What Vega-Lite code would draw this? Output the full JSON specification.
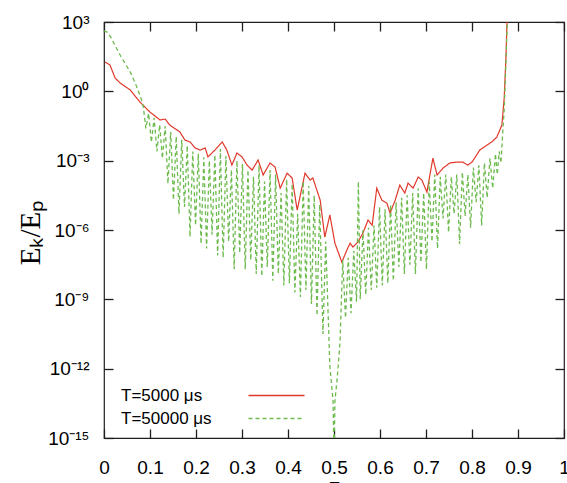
{
  "$schema": "https://vega.github.io/schema/vega-lite/v6.json",
  "width": 460,
  "height": 416,
  "autosize": "none",
  "padding": {"left": 104, "top": 22, "right": 3, "bottom": 45},
  "background": "white",
  "view": {"stroke": "#1e1e1e", "strokeWidth": 1.2},
  "datasets": {
    "curves": [
      {"series": "T=5000 μs", "tau": 0.002, "ratio": 18.6},
      {"series": "T=5000 μs", "tau": 0.013, "ratio": 13.8},
      {"series": "T=5000 μs", "tau": 0.024, "ratio": 3.8},
      {"series": "T=5000 μs", "tau": 0.035, "ratio": 2.29},
      {"series": "T=5000 μs", "tau": 0.057, "ratio": 1.15},
      {"series": "T=5000 μs", "tau": 0.078, "ratio": 0.347},
      {"series": "T=5000 μs", "tau": 0.100, "ratio": 0.126},
      {"series": "T=5000 μs", "tau": 0.122, "ratio": 0.0575},
      {"series": "T=5000 μs", "tau": 0.133, "ratio": 0.0631},
      {"series": "T=5000 μs", "tau": 0.143, "ratio": 0.0347},
      {"series": "T=5000 μs", "tau": 0.165, "ratio": 0.0174},
      {"series": "T=5000 μs", "tau": 0.176, "ratio": 7.76e-3},
      {"series": "T=5000 μs", "tau": 0.187, "ratio": 6.46e-3},
      {"series": "T=5000 μs", "tau": 0.198, "ratio": 3.55e-3},
      {"series": "T=5000 μs", "tau": 0.209, "ratio": 2.88e-3},
      {"series": "T=5000 μs", "tau": 0.220, "ratio": 3.55e-3},
      {"series": "T=5000 μs", "tau": 0.226, "ratio": 1.45e-3},
      {"series": "T=5000 μs", "tau": 0.241, "ratio": 2.88e-3},
      {"series": "T=5000 μs", "tau": 0.257, "ratio": 6.46e-3},
      {"series": "T=5000 μs", "tau": 0.267, "ratio": 2.88e-3},
      {"series": "T=5000 μs", "tau": 0.278, "ratio": 6.46e-4},
      {"series": "T=5000 μs", "tau": 0.289, "ratio": 2.14e-3},
      {"series": "T=5000 μs", "tau": 0.300, "ratio": 1.45e-3},
      {"series": "T=5000 μs", "tau": 0.311, "ratio": 6.46e-4},
      {"series": "T=5000 μs", "tau": 0.322, "ratio": 3.89e-4},
      {"series": "T=5000 μs", "tau": 0.335, "ratio": 1.07e-3},
      {"series": "T=5000 μs", "tau": 0.346, "ratio": 2.4e-4},
      {"series": "T=5000 μs", "tau": 0.361, "ratio": 7.94e-4},
      {"series": "T=5000 μs", "tau": 0.372, "ratio": 5.25e-4},
      {"series": "T=5000 μs", "tau": 0.383, "ratio": 6.46e-5},
      {"series": "T=5000 μs", "tau": 0.398, "ratio": 2.88e-4},
      {"series": "T=5000 μs", "tau": 0.409, "ratio": 1.78e-4},
      {"series": "T=5000 μs", "tau": 0.420, "ratio": 7.24e-6},
      {"series": "T=5000 μs", "tau": 0.437, "ratio": 2.88e-4},
      {"series": "T=5000 μs", "tau": 0.448, "ratio": 1.45e-4},
      {"series": "T=5000 μs", "tau": 0.454, "ratio": 1.78e-4},
      {"series": "T=5000 μs", "tau": 0.470, "ratio": 1.95e-5},
      {"series": "T=5000 μs", "tau": 0.480, "ratio": 4.9e-7},
      {"series": "T=5000 μs", "tau": 0.491, "ratio": 4.47e-6},
      {"series": "T=5000 μs", "tau": 0.502, "ratio": 2.69e-7},
      {"series": "T=5000 μs", "tau": 0.517, "ratio": 4.07e-8},
      {"series": "T=5000 μs", "tau": 0.528, "ratio": 1.35e-7},
      {"series": "T=5000 μs", "tau": 0.535, "ratio": 2.69e-7},
      {"series": "T=5000 μs", "tau": 0.541, "ratio": 1.82e-7},
      {"series": "T=5000 μs", "tau": 0.552, "ratio": 3.02e-7},
      {"series": "T=5000 μs", "tau": 0.563, "ratio": 7.41e-7},
      {"series": "T=5000 μs", "tau": 0.574, "ratio": 2.69e-6},
      {"series": "T=5000 μs", "tau": 0.583, "ratio": 1.62e-6},
      {"series": "T=5000 μs", "tau": 0.593, "ratio": 6.46e-5},
      {"series": "T=5000 μs", "tau": 0.604, "ratio": 1.95e-5},
      {"series": "T=5000 μs", "tau": 0.615, "ratio": 1.45e-5},
      {"series": "T=5000 μs", "tau": 0.622, "ratio": 5.37e-6},
      {"series": "T=5000 μs", "tau": 0.633, "ratio": 1.95e-5},
      {"series": "T=5000 μs", "tau": 0.643, "ratio": 8.71e-5},
      {"series": "T=5000 μs", "tau": 0.654, "ratio": 3.98e-5},
      {"series": "T=5000 μs", "tau": 0.661, "ratio": 1.07e-4},
      {"series": "T=5000 μs", "tau": 0.672, "ratio": 6.46e-5},
      {"series": "T=5000 μs", "tau": 0.683, "ratio": 1.95e-4},
      {"series": "T=5000 μs", "tau": 0.691, "ratio": 1.45e-4},
      {"series": "T=5000 μs", "tau": 0.702, "ratio": 4.37e-5},
      {"series": "T=5000 μs", "tau": 0.715, "ratio": 1.29e-3},
      {"series": "T=5000 μs", "tau": 0.724, "ratio": 2.4e-4},
      {"series": "T=5000 μs", "tau": 0.737, "ratio": 4.79e-4},
      {"series": "T=5000 μs", "tau": 0.752, "ratio": 7.94e-4},
      {"series": "T=5000 μs", "tau": 0.767, "ratio": 8.71e-4},
      {"series": "T=5000 μs", "tau": 0.780, "ratio": 8.71e-4},
      {"series": "T=5000 μs", "tau": 0.791, "ratio": 6.46e-4},
      {"series": "T=5000 μs", "tau": 0.800, "ratio": 8.71e-4},
      {"series": "T=5000 μs", "tau": 0.817, "ratio": 2.88e-3},
      {"series": "T=5000 μs", "tau": 0.833, "ratio": 4.79e-3},
      {"series": "T=5000 μs", "tau": 0.843, "ratio": 6.46e-3},
      {"series": "T=5000 μs", "tau": 0.854, "ratio": 1.05e-2},
      {"series": "T=5000 μs", "tau": 0.865, "ratio": 3.47e-2},
      {"series": "T=5000 μs", "tau": 0.870, "ratio": 0.513},
      {"series": "T=5000 μs", "tau": 0.874, "ratio": 37.2},
      {"series": "T=5000 μs", "tau": 0.876, "ratio": 912},
      {"series": "T=5000 μs", "tau": 0.878, "ratio": 3160},

      {"series": "T=50000 μs", "tau": 0.000, "ratio": 417},
      {"series": "T=50000 μs", "tau": 0.008, "ratio": 355},
      {"series": "T=50000 μs", "tau": 0.016, "ratio": 200},
      {"series": "T=50000 μs", "tau": 0.025, "ratio": 89.1},
      {"series": "T=50000 μs", "tau": 0.035, "ratio": 37.2},
      {"series": "T=50000 μs", "tau": 0.046, "ratio": 15.8},
      {"series": "T=50000 μs", "tau": 0.057, "ratio": 6.92},
      {"series": "T=50000 μs", "tau": 0.068, "ratio": 2.24},
      {"series": "T=50000 μs", "tau": 0.078, "ratio": 0.692},
      {"series": "T=50000 μs", "tau": 0.085, "ratio": 0.251},
      {"series": "T=50000 μs", "tau": 0.091, "ratio": 2.51e-2},
      {"series": "T=50000 μs", "tau": 0.097, "ratio": 0.112},
      {"series": "T=50000 μs", "tau": 0.103, "ratio": 6.31e-3},
      {"series": "T=50000 μs", "tau": 0.109, "ratio": 7.08e-2},
      {"series": "T=50000 μs", "tau": 0.115, "ratio": 2.51e-3},
      {"series": "T=50000 μs", "tau": 0.121, "ratio": 3.55e-2},
      {"series": "T=50000 μs", "tau": 0.127, "ratio": 1.26e-3},
      {"series": "T=50000 μs", "tau": 0.133, "ratio": 3.16e-2},
      {"series": "T=50000 μs", "tau": 0.139, "ratio": 1.0e-4},
      {"series": "T=50000 μs", "tau": 0.145, "ratio": 1.78e-2},
      {"series": "T=50000 μs", "tau": 0.151, "ratio": 2.0e-5},
      {"series": "T=50000 μs", "tau": 0.157, "ratio": 1.12e-2},
      {"series": "T=50000 μs", "tau": 0.163, "ratio": 5.01e-6},
      {"series": "T=50000 μs", "tau": 0.169, "ratio": 7.94e-3},
      {"series": "T=50000 μs", "tau": 0.175, "ratio": 1.0e-5},
      {"series": "T=50000 μs", "tau": 0.181, "ratio": 4.47e-3},
      {"series": "T=50000 μs", "tau": 0.187, "ratio": 5.01e-7},
      {"series": "T=50000 μs", "tau": 0.193, "ratio": 2.51e-3},
      {"series": "T=50000 μs", "tau": 0.199, "ratio": 1.58e-6},
      {"series": "T=50000 μs", "tau": 0.205, "ratio": 2.0e-3},
      {"series": "T=50000 μs", "tau": 0.211, "ratio": 2.51e-7},
      {"series": "T=50000 μs", "tau": 0.217, "ratio": 1.41e-3},
      {"series": "T=50000 μs", "tau": 0.223, "ratio": 1.58e-7},
      {"series": "T=50000 μs", "tau": 0.229, "ratio": 1.0e-3},
      {"series": "T=50000 μs", "tau": 0.235, "ratio": 6.31e-7},
      {"series": "T=50000 μs", "tau": 0.241, "ratio": 1.78e-3},
      {"series": "T=50000 μs", "tau": 0.247, "ratio": 7.94e-8},
      {"series": "T=50000 μs", "tau": 0.253, "ratio": 3.16e-3},
      {"series": "T=50000 μs", "tau": 0.259, "ratio": 6.31e-8},
      {"series": "T=50000 μs", "tau": 0.265, "ratio": 1.58e-3},
      {"series": "T=50000 μs", "tau": 0.271, "ratio": 3.16e-7},
      {"series": "T=50000 μs", "tau": 0.277, "ratio": 3.98e-4},
      {"series": "T=50000 μs", "tau": 0.283, "ratio": 2.0e-8},
      {"series": "T=50000 μs", "tau": 0.289, "ratio": 1.0e-3},
      {"series": "T=50000 μs", "tau": 0.295, "ratio": 1.0e-7},
      {"series": "T=50000 μs", "tau": 0.301, "ratio": 7.08e-4},
      {"series": "T=50000 μs", "tau": 0.307, "ratio": 2.0e-8},
      {"series": "T=50000 μs", "tau": 0.313, "ratio": 3.98e-4},
      {"series": "T=50000 μs", "tau": 0.319, "ratio": 5.01e-8},
      {"series": "T=50000 μs", "tau": 0.325, "ratio": 2.0e-4},
      {"series": "T=50000 μs", "tau": 0.331, "ratio": 1.26e-8},
      {"series": "T=50000 μs", "tau": 0.337, "ratio": 6.31e-4},
      {"series": "T=50000 μs", "tau": 0.343, "ratio": 1.0e-8},
      {"series": "T=50000 μs", "tau": 0.349, "ratio": 1.26e-4},
      {"series": "T=50000 μs", "tau": 0.355, "ratio": 2.51e-8},
      {"series": "T=50000 μs", "tau": 0.361, "ratio": 3.98e-4},
      {"series": "T=50000 μs", "tau": 0.367, "ratio": 6.31e-9},
      {"series": "T=50000 μs", "tau": 0.373, "ratio": 2.51e-4},
      {"series": "T=50000 μs", "tau": 0.379, "ratio": 1.26e-8},
      {"series": "T=50000 μs", "tau": 0.385, "ratio": 3.98e-5},
      {"series": "T=50000 μs", "tau": 0.391, "ratio": 3.98e-9},
      {"series": "T=50000 μs", "tau": 0.397, "ratio": 1.58e-4},
      {"series": "T=50000 μs", "tau": 0.403, "ratio": 5.01e-9},
      {"series": "T=50000 μs", "tau": 0.409, "ratio": 1.0e-4},
      {"series": "T=50000 μs", "tau": 0.415, "ratio": 2.0e-9},
      {"series": "T=50000 μs", "tau": 0.421, "ratio": 5.01e-6},
      {"series": "T=50000 μs", "tau": 0.427, "ratio": 1.26e-9},
      {"series": "T=50000 μs", "tau": 0.433, "ratio": 1.26e-4},
      {"series": "T=50000 μs", "tau": 0.439, "ratio": 2.51e-9},
      {"series": "T=50000 μs", "tau": 0.445, "ratio": 7.94e-5},
      {"series": "T=50000 μs", "tau": 0.451, "ratio": 6.31e-10},
      {"series": "T=50000 μs", "tau": 0.457, "ratio": 3.16e-5},
      {"series": "T=50000 μs", "tau": 0.463, "ratio": 2.0e-10},
      {"series": "T=50000 μs", "tau": 0.469, "ratio": 1.26e-5},
      {"series": "T=50000 μs", "tau": 0.476, "ratio": 3.16e-11},
      {"series": "T=50000 μs", "tau": 0.482, "ratio": 3.16e-7},
      {"series": "T=50000 μs", "tau": 0.491, "ratio": 1.26e-12},
      {"series": "T=50000 μs", "tau": 0.498, "ratio": 3.98e-14},
      {"series": "T=50000 μs", "tau": 0.500, "ratio": 1.0e-16},
      {"series": "T=50000 μs", "tau": 0.502, "ratio": 3.98e-14},
      {"series": "T=50000 μs", "tau": 0.507, "ratio": 3.98e-13},
      {"series": "T=50000 μs", "tau": 0.513, "ratio": 1.26e-11},
      {"series": "T=50000 μs", "tau": 0.519, "ratio": 5.01e-8},
      {"series": "T=50000 μs", "tau": 0.525, "ratio": 1.58e-10},
      {"series": "T=50000 μs", "tau": 0.531, "ratio": 6.31e-8},
      {"series": "T=50000 μs", "tau": 0.537, "ratio": 2.51e-10},
      {"series": "T=50000 μs", "tau": 0.543, "ratio": 1.26e-7},
      {"series": "T=50000 μs", "tau": 0.549, "ratio": 7.94e-10},
      {"series": "T=50000 μs", "tau": 0.553, "ratio": 1.26e-4},
      {"series": "T=50000 μs", "tau": 0.557, "ratio": 1.0e-9},
      {"series": "T=50000 μs", "tau": 0.563, "ratio": 1.0e-6},
      {"series": "T=50000 μs", "tau": 0.569, "ratio": 1.58e-9},
      {"series": "T=50000 μs", "tau": 0.575, "ratio": 1.26e-6},
      {"series": "T=50000 μs", "tau": 0.581, "ratio": 2.51e-9},
      {"series": "T=50000 μs", "tau": 0.587, "ratio": 1.58e-6},
      {"series": "T=50000 μs", "tau": 0.593, "ratio": 3.16e-9},
      {"series": "T=50000 μs", "tau": 0.599, "ratio": 1.0e-5},
      {"series": "T=50000 μs", "tau": 0.605, "ratio": 3.98e-9},
      {"series": "T=50000 μs", "tau": 0.611, "ratio": 7.94e-6},
      {"series": "T=50000 μs", "tau": 0.617, "ratio": 5.01e-9},
      {"series": "T=50000 μs", "tau": 0.623, "ratio": 1.26e-5},
      {"series": "T=50000 μs", "tau": 0.629, "ratio": 6.31e-9},
      {"series": "T=50000 μs", "tau": 0.635, "ratio": 1.58e-5},
      {"series": "T=50000 μs", "tau": 0.641, "ratio": 2.51e-8},
      {"series": "T=50000 μs", "tau": 0.647, "ratio": 2.51e-5},
      {"series": "T=50000 μs", "tau": 0.653, "ratio": 1.26e-8},
      {"series": "T=50000 μs", "tau": 0.659, "ratio": 3.16e-5},
      {"series": "T=50000 μs", "tau": 0.665, "ratio": 3.16e-8},
      {"series": "T=50000 μs", "tau": 0.671, "ratio": 3.98e-5},
      {"series": "T=50000 μs", "tau": 0.677, "ratio": 1.26e-8},
      {"series": "T=50000 μs", "tau": 0.683, "ratio": 6.31e-5},
      {"series": "T=50000 μs", "tau": 0.689, "ratio": 3.98e-8},
      {"series": "T=50000 μs", "tau": 0.695, "ratio": 3.98e-5},
      {"series": "T=50000 μs", "tau": 0.701, "ratio": 2.0e-8},
      {"series": "T=50000 μs", "tau": 0.707, "ratio": 1.26e-4},
      {"series": "T=50000 μs", "tau": 0.713, "ratio": 3.16e-7},
      {"series": "T=50000 μs", "tau": 0.719, "ratio": 2.51e-4},
      {"series": "T=50000 μs", "tau": 0.725, "ratio": 1.58e-7},
      {"series": "T=50000 μs", "tau": 0.731, "ratio": 2.0e-4},
      {"series": "T=50000 μs", "tau": 0.737, "ratio": 3.16e-6},
      {"series": "T=50000 μs", "tau": 0.743, "ratio": 2.51e-4},
      {"series": "T=50000 μs", "tau": 0.749, "ratio": 7.94e-7},
      {"series": "T=50000 μs", "tau": 0.755, "ratio": 2.0e-4},
      {"series": "T=50000 μs", "tau": 0.761, "ratio": 5.01e-6},
      {"series": "T=50000 μs", "tau": 0.767, "ratio": 2.51e-4},
      {"series": "T=50000 μs", "tau": 0.773, "ratio": 2.51e-7},
      {"series": "T=50000 μs", "tau": 0.779, "ratio": 3.16e-4},
      {"series": "T=50000 μs", "tau": 0.785, "ratio": 3.98e-6},
      {"series": "T=50000 μs", "tau": 0.791, "ratio": 2.51e-4},
      {"series": "T=50000 μs", "tau": 0.797, "ratio": 1.26e-6},
      {"series": "T=50000 μs", "tau": 0.803, "ratio": 5.01e-4},
      {"series": "T=50000 μs", "tau": 0.809, "ratio": 1.58e-5},
      {"series": "T=50000 μs", "tau": 0.815, "ratio": 6.31e-4},
      {"series": "T=50000 μs", "tau": 0.821, "ratio": 1.58e-6},
      {"series": "T=50000 μs", "tau": 0.827, "ratio": 7.94e-4},
      {"series": "T=50000 μs", "tau": 0.833, "ratio": 2.51e-5},
      {"series": "T=50000 μs", "tau": 0.839, "ratio": 1.26e-3},
      {"series": "T=50000 μs", "tau": 0.845, "ratio": 6.31e-5},
      {"series": "T=50000 μs", "tau": 0.851, "ratio": 2.0e-3},
      {"series": "T=50000 μs", "tau": 0.855, "ratio": 2.51e-4},
      {"series": "T=50000 μs", "tau": 0.859, "ratio": 2.51e-3},
      {"series": "T=50000 μs", "tau": 0.863, "ratio": 7.94e-4},
      {"series": "T=50000 μs", "tau": 0.867, "ratio": 2.0e-2},
      {"series": "T=50000 μs", "tau": 0.870, "ratio": 0.158},
      {"series": "T=50000 μs", "tau": 0.873, "ratio": 6.31},
      {"series": "T=50000 μs", "tau": 0.876, "ratio": 398},
      {"series": "T=50000 μs", "tau": 0.878, "ratio": 3160}
    ]
  },
  "layer": [
    {
      "data": {"name": "curves"},
      "transform": [{"filter": "datum.series === 'T=5000 μs'"}],
      "mark": {"type": "line", "strokeWidth": 1.2, "clip": true},
      "encoding": {
        "x": {
          "field": "tau",
          "type": "quantitative",
          "scale": {"domain": [0, 1], "nice": false, "zero": false},
          "axis": {
            "orient": "bottom",
            "offset": -9,
            "domain": false,
            "ticks": true,
            "tickSize": 9,
            "tickColor": "#1e1e1e",
            "tickWidth": 1.3,
            "labelPadding": 20,
            "values": [0, 0.1, 0.2, 0.3, 0.4, 0.5, 0.6, 0.7, 0.8, 0.9, 1],
            "format": "~g",
            "title": "τ",
            "titleFont": "Liberation Serif",
            "titleFontSize": 26,
            "titleFontWeight": "normal",
            "titleColor": "#000",
            "titleX": 230,
            "titleY": 64,
            "titleBaseline": "alphabetic",
            "titleAlign": "center"
          }
        },
        "y": {
          "field": "ratio",
          "type": "quantitative",
          "scale": {"type": "log", "domain": [1e-15, 1000], "nice": false},
          "axis": {
            "orient": "left",
            "offset": -9,
            "domain": false,
            "ticks": true,
            "tickSize": 9,
            "tickColor": "#1e1e1e",
            "tickWidth": 1.3,
            "labelPadding": 15,
            "values": [1e-15, 1e-12, 1e-9, 1e-6, 1e-3, 1, 1000],
            "labelExpr": "datum.value >= 100 ? '10³' : datum.value >= 0.5 ? '10⁰' : datum.value >= 5e-4 ? '10⁻³' : datum.value >= 5e-7 ? '10⁻⁶' : datum.value >= 5e-10 ? '10⁻⁹' : datum.value >= 5e-13 ? '10⁻¹²' : '10⁻¹⁵'",
            "title": "Eₖ/Eₚ",
            "titleFont": "Liberation Serif",
            "titleFontSize": 29,
            "titleFontWeight": "normal",
            "titleColor": "#000",
            "titleX": -83,
            "titleY": 210,
            "titleAngle": 270,
            "titleAlign": "center",
            "titleBaseline": "middle"
          }
        },
        "color": {
          "field": "series",
          "type": "nominal",
          "scale": {"domain": ["T=5000 μs", "T=50000 μs"], "range": ["#e0392b", "#6dbb4e"]},
          "legend": {
            "title": null,
            "orient": "none",
            "legendX": 11,
            "legendY": 365,
            "padding": 0,
            "symbolType": "M-5.6,0H5.6",
            "symbolSize": 100,
            "symbolStrokeWidth": 1.3,
            "symbolFillColor": "transparent",
            "symbolOffset": 153,
            "labelOffset": -164,
            "labelFont": "Liberation Sans",
            "labelFontSize": 17,
            "labelColor": "#000",
            "rowPadding": 5
          }
        },
        "strokeDash": {
          "field": "series",
          "type": "nominal",
          "scale": {"domain": ["T=5000 μs", "T=50000 μs"], "range": [[1, 0], [4, 3]]},
          "legend": null
        }
      }
    },
    {
      "data": {"name": "curves"},
      "transform": [{"filter": "datum.series === 'T=50000 μs'"}],
      "mark": {"type": "line", "strokeWidth": 1.3, "clip": true},
      "encoding": {
        "x": {
          "field": "tau",
          "type": "quantitative",
          "scale": {"domain": [0, 1], "nice": false, "zero": false},
          "axis": {
            "orient": "top",
            "offset": -9,
            "domain": false,
            "ticks": true,
            "tickSize": 9,
            "tickColor": "#1e1e1e",
            "tickWidth": 1.3,
            "values": [0, 0.1, 0.2, 0.3, 0.4, 0.5, 0.6, 0.7, 0.8, 0.9, 1],
            "labels": false,
            "title": null
          }
        },
        "y": {
          "field": "ratio",
          "type": "quantitative",
          "scale": {"type": "log", "domain": [1e-15, 1000], "nice": false},
          "axis": {
            "orient": "right",
            "offset": -9,
            "domain": false,
            "ticks": true,
            "tickSize": 9,
            "tickColor": "#1e1e1e",
            "tickWidth": 1.3,
            "values": [1e-15, 1e-12, 1e-9, 1e-6, 1e-3, 1, 1000],
            "labels": false,
            "title": null
          }
        },
        "color": {
          "field": "series",
          "type": "nominal",
          "scale": {"domain": ["T=5000 μs", "T=50000 μs"], "range": ["#e0392b", "#6dbb4e"]}
        },
        "strokeDash": {
          "field": "series",
          "type": "nominal",
          "scale": {"domain": ["T=5000 μs", "T=50000 μs"], "range": [[1, 0], [4, 3]]},
          "legend": null
        }
      }
    }
  ],
  "resolve": {"axis": {"x": "independent", "y": "independent"}},
  "config": {
    "view": {"stroke": "#1e1e1e", "strokeWidth": 1.2},
    "axis": {
      "grid": false,
      "labelFont": "Liberation Sans",
      "labelFontSize": 19,
      "labelColor": "#000",
      "labelFlush": false,
      "labelOverlap": false
    }
  }
}
